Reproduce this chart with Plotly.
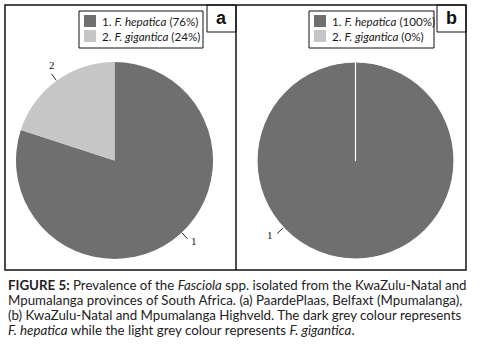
import math
import plotly.graph_objects as go

# ---- data ----
categories = ["F. hepatica", "F. gigantica"]
slice_numbers = ["1", "2"]
values_a = [80, 20]          # shares as drawn in panel a
values_b = [100, 0]          # shares as drawn in panel b
legend_a = ["1. <i>F. hepatica</i> (76%)", "2. <i>F. gigantica</i> (24%)"]
legend_b = ["1. <i>F. hepatica</i> (100%)", "2. <i>F. gigantica</i> (0%)"]
panel_letters = ["a", "b"]
caption_lines = [
    "<b>FIGURE 5:</b> Prevalence of the <i>Fasciola</i> spp. isolated from the KwaZulu-Natal and",
    "Mpumalanga provinces of South Africa. (a) PaardePlaas, Belfaxt (Mpumalanga),",
    "(b) KwaZulu-Natal and Mpumalanga Highveld. The dark grey colour represents",
    "<i>F. hepatica</i> while the light grey colour represents <i>F. gigantica</i>.",
]

# ---- style / layout ----
W, H = 480, 346
colors = ["#6f6f6f", "#c6c6c6"]
txt = "#1a1a1a"
R = 98.5
CY = 160.5
panels = [
    dict(cx=114.5, vals=values_a, legend=legend_a, lx=79, lx2=203, letter_x=207, line_w=0,
         label_shift=[-7, 0]),
    dict(cx=355.5, vals=values_b, legend=legend_b, lx=309, lx2=434, letter_x=437, line_w=1.2,
         label_shift=[47, 0]),
]


def px(x):
    return x / W


def py(y):
    return 1 - y / H


fig = go.Figure()
shapes = []
ann = []

for i, p in enumerate(panels):
    cx = p["cx"]
    fig.add_trace(go.Pie(
        labels=categories, values=p["vals"], sort=False, direction="clockwise", rotation=0,
        marker=dict(colors=colors, line=dict(color="white", width=p["line_w"])),
        textinfo="none", hoverinfo="label+value", showlegend=False,
        domain=dict(x=[px(cx - R), px(cx + R)], y=[py(CY + R), py(CY - R)]),
    ))
    # slice number labels with leader lines
    total = sum(p["vals"])
    cum = 0
    for j, v in enumerate(p["vals"]):
        if v <= 0:
            cum += v
            continue
        mid = (cum + v / 2) / total * 360 + p["label_shift"][j]
        cum += v
        t = math.radians(mid)
        s, c = math.sin(t), math.cos(t)
        x0, y0 = cx + 99 * s, CY - 99 * c
        x1, y1 = cx + 107 * s, CY - 107 * c
        shapes.append(dict(type="line", xref="paper", yref="paper", x0=px(x0), y0=py(y0),
                           x1=px(x1), y1=py(y1), line=dict(color="#222", width=1)))
        if c > 0.7:
            ax, ay, xa, ya = x1, y1 - 1, "center", "bottom"
        else:
            ax, ay, xa, ya = x1 + (2 if s > 0 else -2), y1 + 2, ("left" if s > 0 else "right"), "middle"
        ann.append(dict(text=slice_numbers[j], x=px(ax), y=py(ay), xref="paper", yref="paper",
                        xanchor=xa, yanchor=ya, showarrow=False,
                        font=dict(family="Liberation Serif", size=11, color="#111")))
    # legend box
    shapes.append(dict(type="rect", xref="paper", yref="paper", x0=px(p["lx"]), x1=px(p["lx2"]),
                       y0=py(48), y1=py(11), line=dict(color="#111", width=1), fillcolor="white"))
    for j, lab in enumerate(p["legend"]):
        yc = 21 + 15 * j
        shapes.append(dict(type="rect", xref="paper", yref="paper",
                           x0=px(p["lx"] + 5), x1=px(p["lx"] + 17), y0=py(yc + 6), y1=py(yc - 6),
                           line=dict(width=0), fillcolor=colors[j]))
        ann.append(dict(text=lab, x=px(p["lx"] + 20.5), y=py(yc), xref="paper", yref="paper",
                        xanchor="left", yanchor="middle", showarrow=False,
                        font=dict(family="Lato", size=11.6, color=txt)))
    # panel letter box
    shapes.append(dict(type="rect", xref="paper", yref="paper", x0=px(p["letter_x"]),
                       x1=px(p["letter_x"] + 29), y0=py(32), y1=py(5),
                       line=dict(color="#111", width=1), fillcolor="white"))
    ann.append(dict(text="<b>" + panel_letters[i] + "</b>", x=px(p["letter_x"] + 14.5), y=py(18.5),
                    xref="paper", yref="paper", xanchor="center", yanchor="middle", showarrow=False,
                    font=dict(family="Liberation Sans", size=18, color="#111")))

# outer frame and divider
shapes.append(dict(type="rect", xref="paper", yref="paper", x0=px(5), x1=px(466), y0=py(270),
                   y1=py(5), line=dict(color="#111", width=1.5)))
shapes.append(dict(type="line", xref="paper", yref="paper", x0=px(236), x1=px(236), y0=py(270),
                   y1=py(5), line=dict(color="#111", width=1.5)))

for k, line in enumerate(caption_lines):
    ann.append(dict(text=line, x=px(6), y=py(284.5 + 15 * k), xref="paper", yref="paper",
                    xanchor="left", yanchor="middle", showarrow=False,
                    font=dict(family="Lato", size=13.3, color="#222")))

fig.update_layout(width=W, height=H, margin=dict(l=0, r=0, t=0, b=0),
                  paper_bgcolor="white", plot_bgcolor="white",
                  shapes=shapes, annotations=ann)
fig.write_html("out.html", config={"displayModeBar": False},
               post_script="document.body.style.margin='0';")
